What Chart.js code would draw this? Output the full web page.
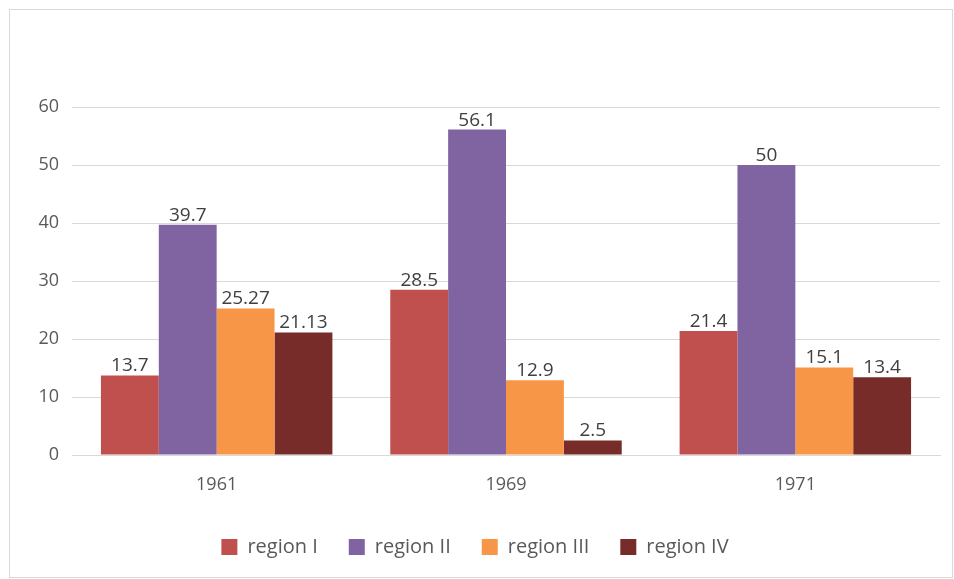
<!DOCTYPE html>
<html>
<head>
<meta charset="utf-8">
<script src="https://cdn.jsdelivr.net/npm/chart.js@4.4.0/dist/chart.umd.min.js"></script>
<style>
  body { margin: 0; background: #fff; }
  #frame {
    position: absolute; left: 9px; top: 9px;
    width: 942px; height: 567px;
    border: 1px solid #d9d9d9;
  }
  canvas { display: block; }
</style>
</head>
<body>
<div id="frame"><canvas id="chart" width="942" height="567"></canvas></div>
<script>
const years = ["1961", "1969", "1971"];
const regionI = [13.7, 28.5, 21.4];
const regionII = [39.7, 56.1, 50];
const regionIII = [25.27, 12.9, 15.1];
const regionIV = [21.13, 2.5, 13.4];
const yTicks = [0, 10, 20, 30, 40, 50, 60];

// draws the value above each bar
const barLabels = {
  id: "barLabels",
  afterDatasetsDraw(chart) {
    const ctx = chart.ctx;
    ctx.save();
    ctx.font = "19px 'Open Sans'";
    ctx.fillStyle = "#404040";
    ctx.textAlign = "center";
    ctx.textBaseline = "bottom";
    chart.data.datasets.forEach((ds, i) => {
      chart.getDatasetMeta(i).data.forEach((bar, j) => {
        ctx.fillText(String(ds.data[j]), bar.x, bar.y);
      });
    });
    ctx.restore();
  },
};

new Chart(document.getElementById("chart"), {
  type: "bar",
  data: {
    labels: years,
    datasets: [
      { label: "region I", data: regionI, backgroundColor: "#C0504D" },
      { label: "region II", data: regionII, backgroundColor: "#8064A2" },
      { label: "region III", data: regionIII, backgroundColor: "#F79646" },
      { label: "region IV", data: regionIV, backgroundColor: "#772C2A" },
    ],
  },
  options: {
    responsive: false,
    animation: false,
    layout: { padding: { top: 97, right: 12, bottom: 10, left: 0 } },
    datasets: { bar: { barPercentage: 1.0, categoryPercentage: 0.8 } },
    scales: {
      x: {
        afterFit: (scale) => { scale.height = 51; },
        grid: { display: false, drawTicks: false },
        border: { color: "#d9d9d9", width: 1 },
        ticks: { color: "#595959", font: { family: "Open Sans", size: 18 }, padding: 19 },
      },
      y: {
        min: 0,
        max: 60,
        afterFit: (scale) => { scale.width = 62; },
        afterBuildTicks: (scale) => { scale.ticks = yTicks.map((v) => ({ value: v })); },
        grid: { color: "#d9d9d9", drawTicks: false },
        border: { display: false },
        ticks: { color: "#595959", font: { family: "Open Sans", size: 18 }, padding: 13 },
      },
    },
    plugins: {
      tooltip: { enabled: false },
      legend: {
        position: "bottom",
        labels: {
          boxWidth: 16,
          boxHeight: 16,
          padding: 31,
          color: "#595959",
          font: { family: "Open Sans", size: 20 },
        },
      },
    },
  },
  plugins: [barLabels],
});
</script>
</body>
</html>
